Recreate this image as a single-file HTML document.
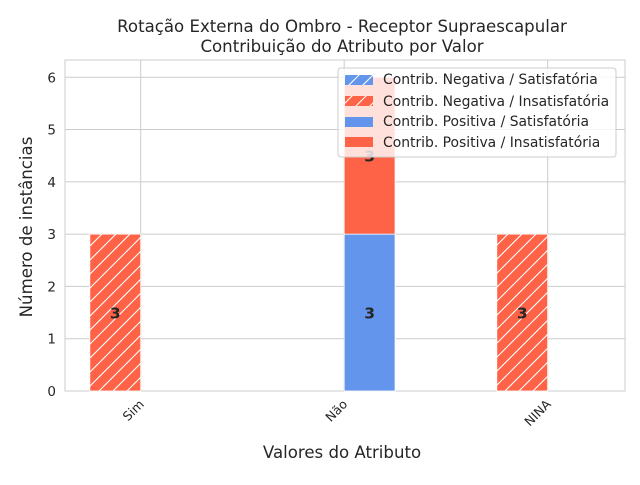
<!DOCTYPE html>
<html><head><meta charset="utf-8"><style>
body{margin:0;background:#fff}
svg{font-family:"DejaVu Sans","Liberation Sans",sans-serif}
</style></head><body>
<svg id="chart" width="640" height="480" viewBox="0 0 640 480">
<defs>
<pattern id="hatch" patternUnits="userSpaceOnUse" width="14" height="14">
<path d="M-3,3 l6,-6 M0,14 l14,-14 M11,17 l6,-6" stroke="#fff" stroke-width="1.1"/>
</pattern>
</defs>
<text x="342" y="32" text-anchor="middle" font-size="16.6" fill="#262626">Rotação Externa do Ombro - Receptor Supraescapular</text>
<text x="342" y="52" text-anchor="middle" font-size="16.6" fill="#262626">Contribuição do Atributo por Valor</text>
<g id="plot"></g>
<text x="342" y="458" text-anchor="middle" font-size="16.6" fill="#262626">Valores do Atributo</text>
<text transform="translate(32,227) rotate(-90)" text-anchor="middle" font-size="16.6" fill="#262626">Número de instâncias</text>
<g>
<rect x="338" y="68" width="278" height="89" rx="3" fill="#fff" fill-opacity="0.8" stroke="#ccc"/>
<g><rect x="345" y="75" width="28" height="10" fill="#6495ED"/><rect x="345" y="75" width="28" height="10" fill="url(#hatch)"/><text x="383" y="84" font-size="13.9" fill="#262626">Contrib. Negativa / Satisfatória</text></g>
<g><rect x="345" y="96" width="28" height="10" fill="#FF6347"/><rect x="345" y="96" width="28" height="10" fill="url(#hatch)"/><text x="383" y="106" font-size="13.9" fill="#262626">Contrib. Negativa / Insatisfatória</text></g>
<g><rect x="345" y="117" width="28" height="10" fill="#6495ED"/><text x="383" y="126" font-size="13.9" fill="#262626">Contrib. Positiva / Satisfatória</text></g>
<g><rect x="345" y="137" width="28" height="10" fill="#FF6347"/><text x="383" y="147" font-size="13.9" fill="#262626">Contrib. Positiva / Insatisfatória</text></g>
</g>
</svg>
<script>
const categories=["Sim","Não","NINA"];
const negSat=[0,0,0];
const negInsat=[3,0,3];
const posSat=[0,3,0];
const posInsat=[0,3,0];
const yTicks=[0,1,2,3,4,5,6];
const L=65,R=625,T=60,B=391;
const xmin=-0.372,xmax=2.38,ymin=0,ymax=6.33;
const X=v=>L+(v-xmin)/(xmax-xmin)*(R-L);
const Y=v=>B-(v-ymin)/(ymax-ymin)*(B-T);
const W=(X(0.25)-X(0));
const NS="http://www.w3.org/2000/svg";
const g=document.getElementById('plot');
function mk(t,a,p){const e=document.createElementNS(NS,t);for(const k in a)e.setAttribute(k,a[k]);(p||g).appendChild(e);return e;}
mk('rect',{x:L,y:T,width:R-L,height:B-T,fill:'#fff',stroke:'#ccc'});
yTicks.forEach(t=>{
 const l=mk('line',{x1:L,x2:R,y1:Y(t),y2:Y(t),stroke:'#ccc'});
 
 
 const tx=mk('text',{x:L-9,y:Y(t)+5,'text-anchor':'end','font-size':13.5,fill:'#262626'});tx.textContent=t;
 
 
});
categories.forEach((c,i)=>{
 const l=mk('line',{x1:X(i),x2:X(i),y1:T,y2:B,stroke:'#ccc'});
 
 
 const tx=mk('text',{transform:`translate(${X(i)+4},${B+14}) rotate(-45)`,'text-anchor':'end','font-size':12.5,fill:'#262626'});tx.textContent=c;
 
 
});
function bar(i,off,base,v,color,hatch,name){
 if(!v)return;
 const x=X(i)+off*W;
 const r=mk('rect',{x:x,y:Y(base+v),width:W,height:Y(base)-Y(base+v),fill:color,stroke:'#fff','stroke-width':0.8});
 
 
 if(hatch){mk('rect',{x:x,y:Y(base+v),width:W,height:Y(base)-Y(base+v),fill:'url(#hatch)'});}
 const t=mk('text',{x:x+W/2,y:Y(base+v/2)+6,'text-anchor':'middle','font-size':15.5,'font-weight':'bold',fill:'#262626'});t.textContent=v;
 
 
}
categories.forEach((c,i)=>{
 bar(i,-2,0,negSat[i],'#6495ED',true,'bar-neg-sat');
 bar(i,-1,0,negInsat[i],'#FF6347',true,'bar-neg-insat');
 bar(i,0,0,posSat[i],'#6495ED',false,'bar-pos-sat');
 bar(i,0,posSat[i],posInsat[i],'#FF6347',false,'bar-pos-insat');
});
</script>
</body></html>
